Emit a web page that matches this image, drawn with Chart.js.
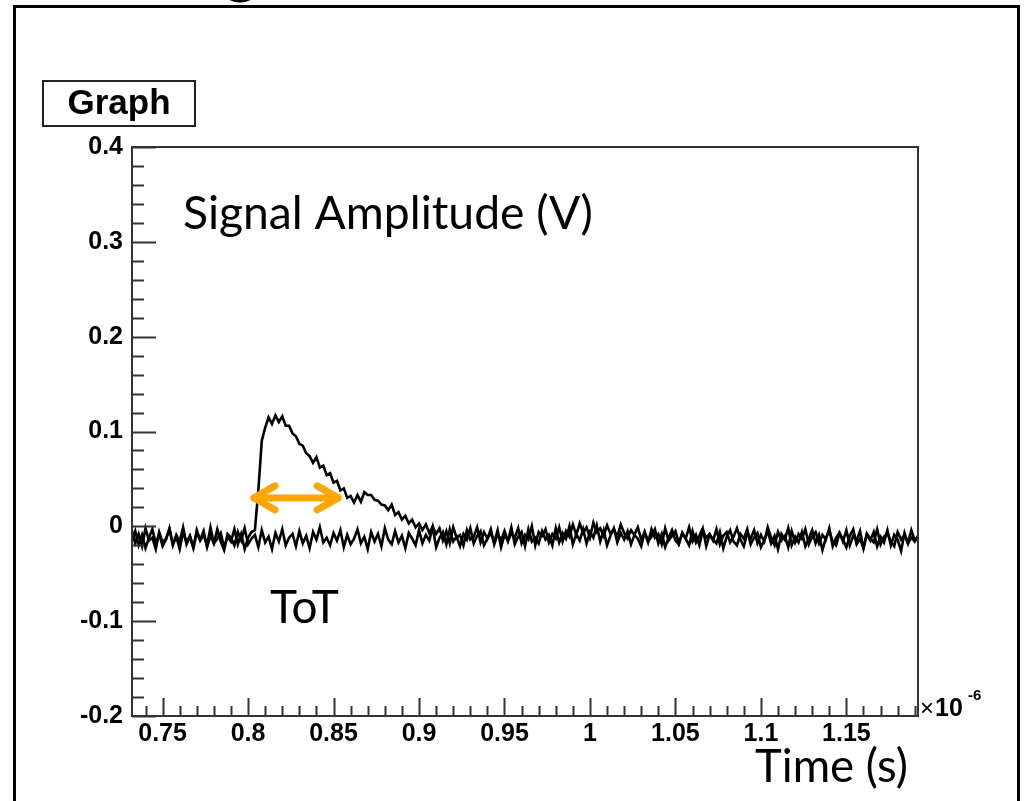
<!DOCTYPE html>
<html>
<head>
<meta charset="utf-8">
<script src="https://cdn.jsdelivr.net/npm/chart.js@4.4.1/dist/chart.umd.min.js"></script>
<style>
  html, body { margin: 0; padding: 0; background: #fff; }
  canvas { display: block; }
</style>
</head>
<body>
<canvas id="myChart" width="1026" height="801"></canvas>
<script>
// time axis in units of 1e-6 s, one sample every 0.002
const T0 = 0.732;
const DT = 0.002;

// trace with the pulse (mV)
const pulseTrace = [
  -16,-5,-20,-9,-23,-12,-3,-18,-8,-21,
  -14,-2,-19,-11,-24,-6,-17,-10,-22,-4,
  -15,-9,-20,-1,-18,-13,-7,-22,-11,-16,
  -3,-19,-8,-24,-12,-6,
  -4,38,90,104,115,108,117,110,116,106,
  106,98,95,87,85,77,74,67,73,62,
  64,54,56,46,48,38,40,30,32,25,
  33,26,36,33,33,28,27,23,22,17,
  23,12,15,7,11,3,7,-1,3,-4,
  2,-7,0,-8,
  -2,-15,-5,-18,-1,-12,-9,-20,-4,-14,
  -11,-1,-17,-6,-13,-3,-19,-8,-15,-5,
  -16,-7,-12,-2,-18,-9,-14,0,-20,-6,
  -10,-3,-17,-8,-13,-1,-16,-5,-11,2,
  -9,3,-7,-1,-12,4,-6,-2,-10,1,
  -8,-3,-11,2,-7,-13,-4,-9,-1,-14,
  -6,-17,-3,-12,-8,-19,-2,-15,-10,-5,
  -18,-7,-13,-1,-16,-9,-20,-4,-12,-8,
  -15,-3,-19,-10,-6,-17,-11,-2,-14,-21,
  -7,-13,-4,-18,-9,-16,-1,-12,-20,-6,
  -15,-10,-22,-5,-17,-8,-13,-3,-19,-11,
  -6,-18,-9,-14,-2,-21,-12,-7,-16,-4,
  -20,-10,-15,-5,-23,-8,-13,-17,-3,-19,
  -11,-7,-16,-21,-6,-14,-9,-18,-4,-15,
  -10
];

// flat trace (mV)
const flatTrace = [
  -4,-18,-8,-21,-2,-15,-12,-24,-6,-17,
  -13,-3,-20,-9,-16,-1,-19,-11,-23,-7,
  -14,-5,-22,-10,-18,-3,-16,-25,-8,-12,
  -20,-6,-15,-2,-19,-13,-9,-22,-4,-17,
  -11,-24,-7,-16,-3,-20,-12,-8,-21,-5,
  -18,-10,-23,-6,-14,-1,-17,-12,-20,-7,
  -15,-4,-22,-9,-19,-13,-3,-18,-11,-24,
  -6,-16,-8,-21,-2,-14,-19,-5,-17,-10,
  -23,-7,-13,-20,-4,-18,-9,-15,-1,-22,
  -12,-6,-19,-3,-16,-11,-21,-8,-14,-2,
  -18,-10,-5,-20,-13,-7,-17,-4,-22,-9,
  -15,-1,-19,-11,-6,-21,-3,-16,-12,-18,
  -5,-14,-9,-20,-2,-17,-7,-13,0,-19,
  -8,-15,-3,-18,-6,-12,1,-16,-4,-20,
  -10,-2,-17,-7,-14,-5,-19,-9,-13,-21,
  -6,-16,-11,-3,-18,-8,-22,-12,-4,-15,
  -19,-7,-13,-20,-5,-17,-10,-2,-21,-9,
  -14,-18,-6,-23,-11,-4,-16,-20,-8,-13,
  -3,-19,-12,-7,-22,-15,-5,-18,-10,-24,
  -8,-14,-2,-20,-11,-17,-6,-21,-13,-4,
  -18,-9,-25,-12,-5,-16,-20,-7,-14,-22,
  -10,-3,-19,-13,-23,-8,-15,-6,-21,-11,
  -17,-4,-20,-9,-14,-26,-7,-18,-12,-16,
  -10
];

const xTicks = [0.75, 0.8, 0.85, 0.9, 0.95, 1, 1.05, 1.1, 1.15];
const xTickLabels = ["0.75", "0.8", "0.85", "0.9", "0.95", "1", "1.05", "1.1", "1.15"];
const yTicks = [-0.2, -0.1, 0, 0.1, 0.2, 0.3, 0.4];
const yTickLabels = ["-0.2", "-0.1", "0", "0.1", "0.2", "0.3", "0.4"];

const X_MIN = 0.7321;
const X_MAX = 1.1919;
const Y_MIN = -0.2;
const Y_MAX = 0.4;

// ToT arrow (time units, volts)
const totStart = 0.8011;
const totEnd = 0.855;
const totLevel = 0.03;

const toPoints = (arr) => arr.map((mv, i) => ({ x: T0 + DT * i, y: mv / 1000 }));

const tickFont = { family: "'Liberation Sans', Arial, sans-serif", size: 25, weight: "bold" };
const textFont = "Lato, 'Open Sans', sans-serif";

function fitText(ctx, text, left, baseline, width, weight) {
  ctx.font = `${weight || "normal"} 40px ${textFont}`;
  const w = ctx.measureText(text).width;
  const size = 40 * width / w;
  ctx.font = `${weight || "normal"} ${size}px ${textFont}`;
  ctx.textAlign = "left";
  ctx.textBaseline = "alphabetic";
  ctx.fillText(text, left, baseline);
}

const decor = {
  id: "decor",
  afterDatasetsDraw(chart) {
    const { ctx, scales: { x, y } } = chart;
    const x1 = x.getPixelForValue(totStart);
    const x2 = x.getPixelForValue(totEnd);
    const yy = y.getPixelForValue(totLevel);
    ctx.save();
    ctx.strokeStyle = "#FFA500";
    ctx.lineWidth = 7;
    ctx.lineCap = "round";
    ctx.lineJoin = "round";
    ctx.beginPath();
    ctx.moveTo(x1 + 4, yy);
    ctx.lineTo(x2 - 4, yy);
    ctx.stroke();
    ctx.beginPath();
    ctx.moveTo(x1 + 25, yy - 12);
    ctx.lineTo(x1 + 4, yy);
    ctx.lineTo(x1 + 25, yy + 12);
    ctx.stroke();
    ctx.beginPath();
    ctx.moveTo(x2 - 25, yy - 12);
    ctx.lineTo(x2 - 4, yy);
    ctx.lineTo(x2 - 25, yy + 12);
    ctx.stroke();
    ctx.restore();
  },
  afterDraw(chart) {
    const { ctx, chartArea: a, scales: { x, y } } = chart;
    ctx.save();

    // frame
    ctx.strokeStyle = "#333";
    ctx.lineWidth = 2;
    ctx.strokeRect(a.left, a.top, a.right - a.left, a.bottom - a.top);

    // inward ticks on y
    ctx.beginPath();
    for (let k = -10; k <= 20; k++) {
      const py = Math.round(y.getPixelForValue(k * 0.02)) + 0.5;
      const len = k % 5 === 0 ? 24 : 12;
      ctx.moveTo(a.left, py);
      ctx.lineTo(a.left + len, py);
    }
    // inward ticks on x
    for (let k = 74; k <= 119; k++) {
      const px = Math.round(x.getPixelForValue(k / 100)) + 0.5;
      const len = k % 5 === 0 ? 18 : 10;
      ctx.moveTo(px, a.bottom);
      ctx.lineTo(px, a.bottom - len);
    }
    ctx.stroke();

    // x10^-6
    ctx.fillStyle = "#000";
    ctx.textBaseline = "alphabetic";
    ctx.textAlign = "left";
    ctx.font = "normal 24px 'Liberation Sans', Arial, sans-serif";
    ctx.fillText("\u00d7", a.right + 2, a.bottom);
    ctx.font = "bold 25px 'Liberation Sans', Arial, sans-serif";
    ctx.fillText("10", a.right + 17, a.bottom);
    ctx.font = "bold 15px 'Liberation Sans', Arial, sans-serif";
    ctx.fillText("-6", a.right + 50, a.bottom - 16);

    // Graph title box
    ctx.strokeStyle = "#222";
    ctx.lineWidth = 2;
    ctx.strokeRect(43, 81, 152, 45);
    ctx.font = "bold 35px 'Liberation Sans', Arial, sans-serif";
    ctx.textAlign = "center";
    ctx.textBaseline = "middle";
    ctx.fillText("Graph", 119, 104);

    // slide annotations
    fitText(ctx, "Signal Amplitude (V)", 183, 229, 410);
    fitText(ctx, "ToT", 270, 623, 69);
    fitText(ctx, "Time (s)", 755, 782, 153);

    // outer slide frame
    ctx.strokeStyle = "#000";
    ctx.lineWidth = 3;
    ctx.strokeRect(14.5, 6.5, 1004, 820);

    // bit of the cut-off slide title
    ctx.lineWidth = 3;
    ctx.beginPath();
    ctx.ellipse(240, -6, 13, 7, 0, 0, Math.PI);
    ctx.stroke();

    ctx.restore();
  }
};

const ctx = document.getElementById("myChart").getContext("2d");

new Chart(ctx, {
  type: "line",
  data: {
    datasets: [
      {
        label: "pulse",
        data: toPoints(pulseTrace),
        borderColor: "#000",
        borderWidth: 2.6,
        pointRadius: 0,
        tension: 0,
        fill: false,
      },
      {
        label: "flat",
        data: toPoints(flatTrace),
        borderColor: "#000",
        borderWidth: 2.6,
        pointRadius: 0,
        tension: 0,
        fill: false,
      },
    ],
  },
  options: {
    responsive: false,
    animation: false,
    layout: { padding: { left: 0, top: 147, right: 108, bottom: 0 } },
    plugins: {
      legend: { display: false },
      tooltip: { enabled: false },
    },
    scales: {
      x: {
        type: "linear",
        min: X_MIN,
        max: X_MAX,
        grid: { display: false, drawTicks: false },
        border: { display: false },
        afterBuildTicks: (s) => { s.ticks = xTicks.map((v) => ({ value: v })); },
        afterFit: (s) => { s.height = 85; },
        ticks: {
          padding: 3,
          color: "#000",
          font: tickFont,
          maxRotation: 0,
          autoSkip: false,
          callback: (v, i) => xTickLabels[i],
        },
      },
      y: {
        type: "linear",
        min: Y_MIN,
        max: Y_MAX,
        grid: { display: false, drawTicks: false },
        border: { display: false },
        afterBuildTicks: (s) => { s.ticks = yTicks.map((v) => ({ value: v })); },
        afterFit: (s) => { s.width = 132; },
        ticks: {
          padding: 9,
          color: "#000",
          font: tickFont,
          autoSkip: false,
          callback: (v, i) => yTickLabels[i],
        },
      },
    },
  },
  plugins: [decor],
});
</script>
</body>
</html>
